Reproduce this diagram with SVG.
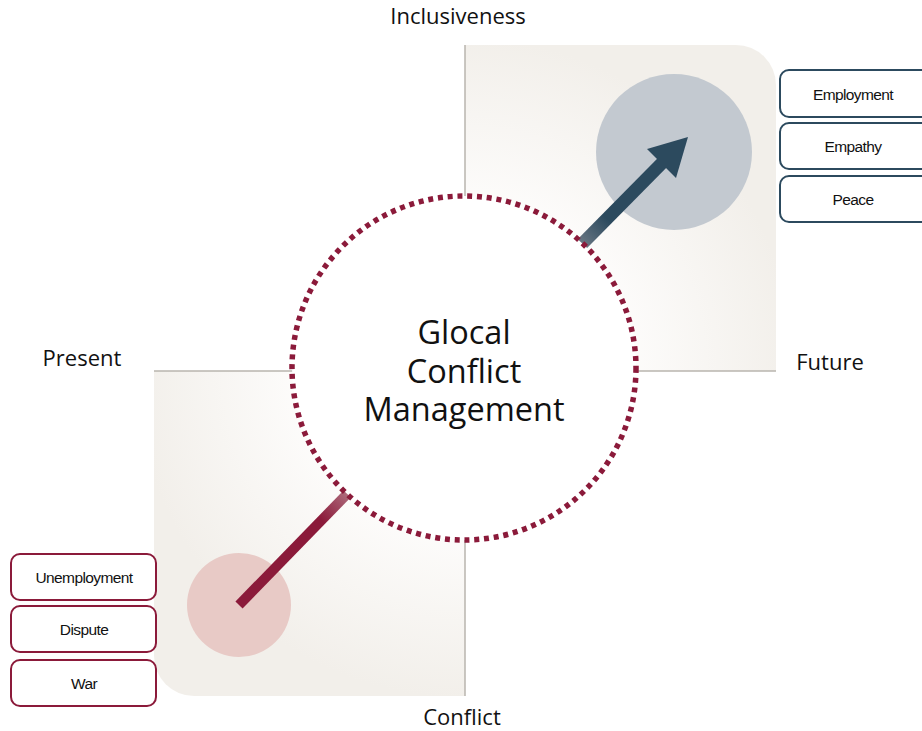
<svg xmlns="http://www.w3.org/2000/svg" width="922" height="731" viewBox="0 0 922 731">
<style>
.lbl{font-family:"Open Sans","Noto Sans",sans-serif;font-size:22px;fill:#111;text-anchor:middle}
.ctr{font-family:"Open Sans","Noto Sans",sans-serif;font-size:32.5px;fill:#111;text-anchor:middle}
.bt{font-family:"Liberation Sans",Arial,sans-serif;font-size:15.5px;fill:#111;text-anchor:middle;letter-spacing:-0.6px}
.bb{fill:#fff;stroke:#2c4a5e;stroke-width:2}
.br{fill:#fff;stroke:#8b1a3a;stroke-width:2}
.edge{stroke:#b8b4ae;stroke-width:1.5;fill:none}
</style>
<defs>
<radialGradient id="glow" cx="464" cy="368" r="330" gradientUnits="userSpaceOnUse">
<stop offset="0.5" stop-color="#fdfcfb"/>
<stop offset="1" stop-color="#f2efea"/>
</radialGradient>
<linearGradient id="bgrad" x1="580" y1="246" x2="688" y2="137" gradientUnits="userSpaceOnUse">
<stop offset="0" stop-color="#6e7a86"/>
<stop offset="0.25" stop-color="#2c4a5e"/>
<stop offset="1" stop-color="#2c4a5e"/>
</linearGradient>
<linearGradient id="rgrad" x1="349" y1="492" x2="239" y2="605" gradientUnits="userSpaceOnUse">
<stop offset="0" stop-color="#b07080"/>
<stop offset="0.25" stop-color="#8b1a3a"/>
<stop offset="1" stop-color="#8b1a3a"/>
</linearGradient>
</defs>
<g id="quadrants">
<path d="M465 45 H736 A40 40 0 0 1 776 85 V371 H465 Z" fill="url(#glow)"/>
<path d="M154 371 H465 V696 H194 A40 40 0 0 1 154 656 Z" fill="url(#glow)"/>
<line class="edge" x1="465" y1="45" x2="465" y2="210"/>
<line class="edge" x1="630" y1="371" x2="776" y2="371"/>
<line class="edge" x1="154" y1="371" x2="295" y2="371"/>
<line class="edge" x1="465" y1="528" x2="465" y2="696"/>
</g>
<g id="future-circle">
<circle cx="674" cy="152" r="78" fill="#c3c9d0"/>
</g>
<g id="present-circle">
<circle cx="239" cy="605" r="52" fill="#e8cac6"/>
</g>
<g id="connectors">
<line x1="580" y1="246" x2="662" y2="163" stroke="url(#bgrad)" stroke-width="13"/>
<polygon points="688,137 647,149 676,178" fill="#2c4a5e"/>
<line x1="349" y1="492" x2="239" y2="605" stroke="url(#rgrad)" stroke-width="10"/>
</g>
<g id="center">
<circle cx="464" cy="368" r="172" fill="#fff" stroke="#8b1a3a" stroke-width="5.5" stroke-dasharray="5 4.8"/>
<text class="ctr" x="464" y="344">Glocal</text>
<text class="ctr" x="464" y="383">Conflict</text>
<text class="ctr" x="464" y="421">Management</text>
</g>
<g id="axis-labels">
<text class="lbl" x="458" y="24">Inclusiveness</text>
<text class="lbl" x="82" y="366">Present</text>
<text class="lbl" x="830" y="370">Future</text>
<text class="lbl" x="462" y="725">Conflict</text>
</g>
<g id="box-employment"><rect class="bb" x="780" y="70" width="150" height="47" rx="9"/><text class="bt" x="853" y="100">Employment</text></g>
<g id="box-empathy"><rect class="bb" x="780" y="123" width="150" height="46" rx="9"/><text class="bt" x="853" y="152">Empathy</text></g>
<g id="box-peace"><rect class="bb" x="780" y="176" width="150" height="46" rx="9"/><text class="bt" x="853" y="205">Peace</text></g>
<g id="box-unemployment"><rect class="br" x="11" y="554" width="145" height="46" rx="9"/><text class="bt" x="84" y="583">Unemployment</text></g>
<g id="box-dispute"><rect class="br" x="11" y="606" width="145" height="46" rx="9"/><text class="bt" x="84" y="635">Dispute</text></g>
<g id="box-war"><rect class="br" x="11" y="660" width="145" height="46" rx="9"/><text class="bt" x="84" y="689">War</text></g>
</svg>
